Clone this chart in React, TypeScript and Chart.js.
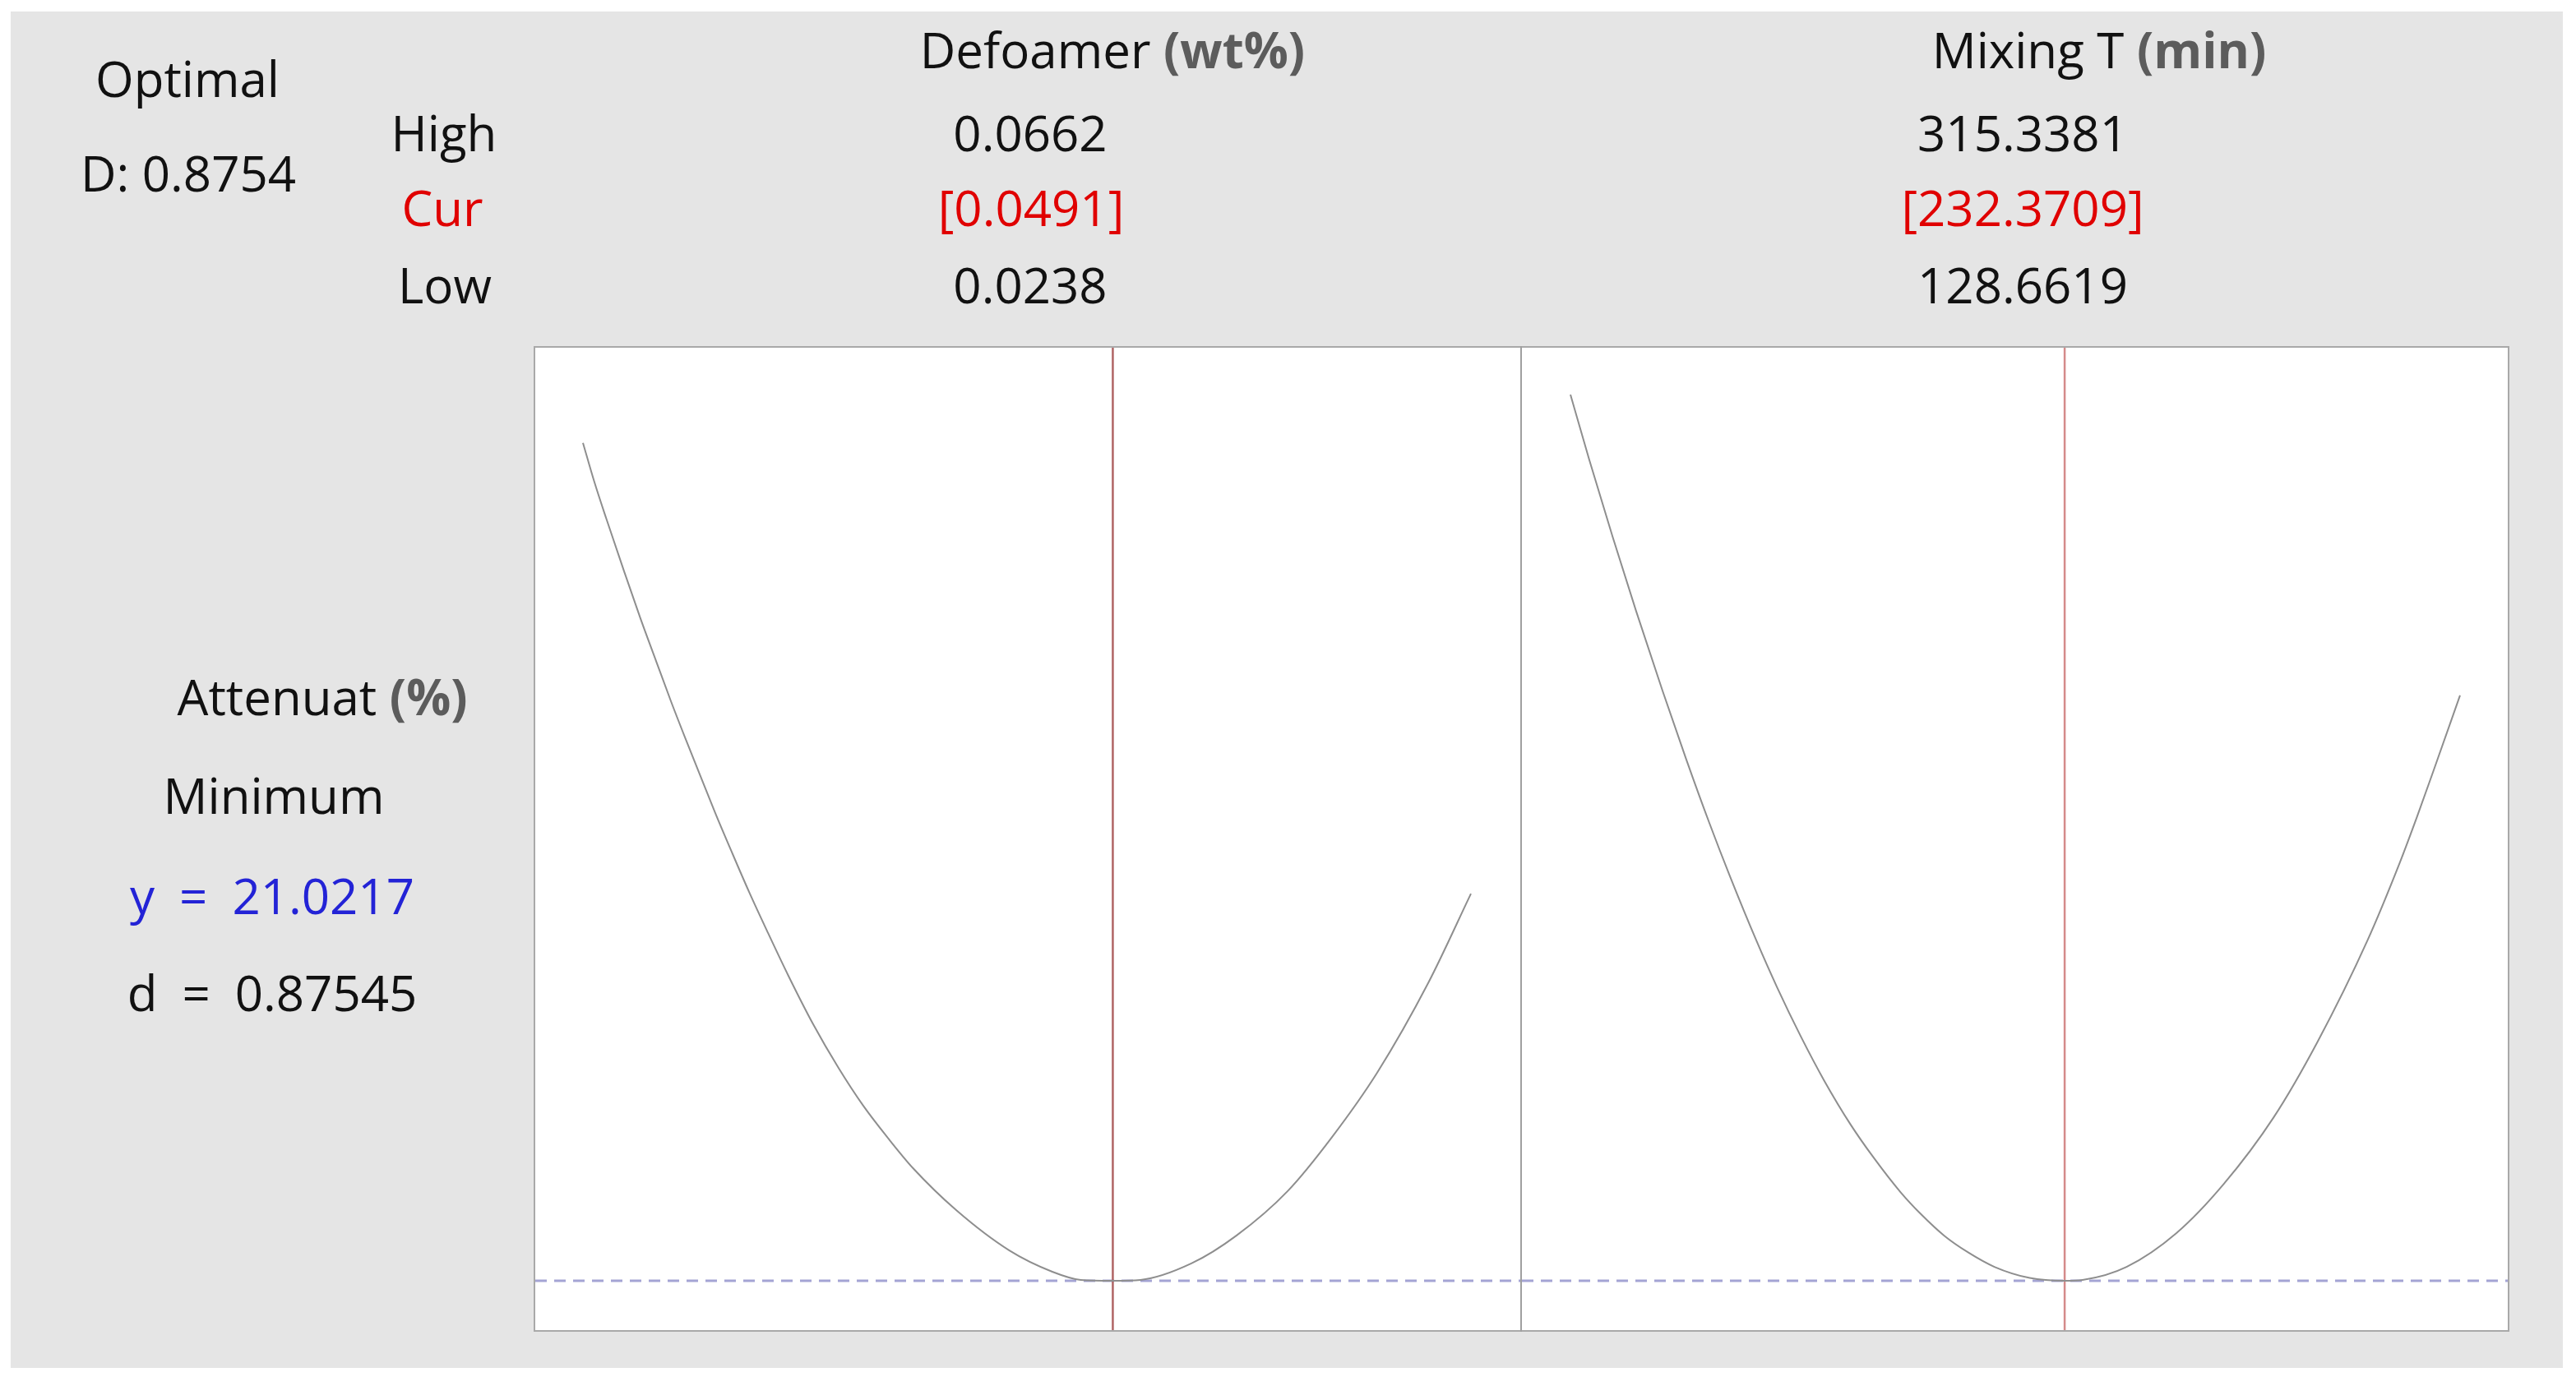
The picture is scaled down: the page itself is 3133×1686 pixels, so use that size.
import React, { useEffect, useRef } from "react";
import { Chart, registerables } from "chart.js";

Chart.register(...registerables);

// ---- data ----
const Y_MIN = 20;
const Y_MAX = 40.35;
const Y_OPT = 21.0217;

const defoamerLow = 0.0238;
const defoamerCur = 0.0491;
const defoamerHigh = 0.0662;
const defoamerAxis = [0.021523, 0.068556];
const defoamerX = [
  0.0238, 0.02433, 0.02493, 0.02578, 0.02654, 0.02731, 0.02799, 0.02867,
  0.02936, 0.03012, 0.03089, 0.03174, 0.03259, 0.03361, 0.0348, 0.03599,
  0.03718, 0.03838, 0.03957, 0.04161, 0.04416, 0.04621, 0.04757, 0.0491,
  0.05042, 0.05285, 0.05501, 0.05745, 0.05957, 0.06172, 0.06416, 0.0662,
];
const defoamerY = [
  38.38, 37.59, 36.79, 35.7, 34.75, 33.84, 33.04, 32.28, 31.53, 30.71, 29.92,
  29.07, 28.27, 27.34, 26.33, 25.44, 24.65, 23.97, 23.35, 22.49, 21.65, 21.21,
  21.04, 21.0217, 21.04, 21.38, 21.96, 22.88, 24.0, 25.33, 27.19, 29.04,
];

const mixingLow = 128.6619;
const mixingCur = 232.3709;
const mixingHigh = 315.3381;
const mixingAxis = [118.48, 325.35];
const mixingX = [
  128.6619, 132.61, 137.53, 142.46, 148.0, 152.94, 157.87, 162.18, 167.72,
  172.03, 176.97, 181.9, 187.44, 192.38, 197.91, 202.23, 207.16, 212.1, 217.63,
  225.04, 232.3709, 236.13, 245.36, 255.83, 265.7, 276.18, 285.42, 295.9,
  302.68, 306.37, 310.06, 315.3381,
];
const mixingY = [
  39.38, 38.03, 36.43, 34.89, 33.24, 31.83, 30.49, 29.39, 28.06, 27.1, 26.09,
  25.17, 24.26, 23.56, 22.86, 22.4, 21.95, 21.61, 21.31, 21.08, 21.0217, 21.04,
  21.31, 22.01, 23.02, 24.4, 25.97, 28.07, 29.68, 30.65, 31.67, 33.15,
];

const FONT = '"Open Sans", "Noto Sans", sans-serif';
const FS = 60;

function Label(props: {
  cx: number;
  baseline: number;
  color?: string;
  children: React.ReactNode;
}) {
  const top = props.baseline - 0.888 * FS;
  return (
    <div
      style={{
        position: "absolute",
        left: props.cx - 500,
        width: 1000,
        top,
        height: FS,
        lineHeight: FS + "px",
        fontSize: FS,
        fontFamily: FONT,
        color: props.color || "#111",
        textAlign: "center",
        whiteSpace: "pre",
      }}
    >
      {props.children}
    </div>
  );
}

const Unit = (p: { children: React.ReactNode }) => (
  <span style={{ fontWeight: 700, color: "#5c5c5c" }}>{p.children}</span>
);

function Panel(props: {
  left: number;
  top: number;
  width: number;
  height: number;
  xs: number[];
  ys: number[];
  cur: number;
  axis: number[];
  red: string;
}) {
  const ref = useRef<HTMLCanvasElement | null>(null);
  useEffect(() => {
    if (!ref.current) return;
    const chart = new Chart(ref.current, {
      type: "line",
      data: {
        datasets: [
          {
            data: props.xs.map((x, i) => ({ x, y: props.ys[i] })),
            borderColor: "#8e8e8e",
            borderWidth: 2,
            pointRadius: 0,
            cubicInterpolationMode: "monotone",
            fill: false,
          },
          {
            data: [
              { x: props.cur, y: Y_MIN },
              { x: props.cur, y: Y_MAX },
            ],
            borderColor: props.red,
            borderWidth: 2.5,
            pointRadius: 0,
            fill: false,
          },
          {
            data: [
              { x: props.axis[0], y: Y_OPT },
              { x: props.axis[1], y: Y_OPT },
            ],
            borderColor: "#a4a4d4",
            borderWidth: 3,
            borderDash: [14, 9],
            pointRadius: 0,
            fill: false,
          },
        ],
      },
      options: {
        animation: false,
        responsive: false,
        maintainAspectRatio: false,
        events: [],
        layout: { padding: 0 },
        plugins: { legend: { display: false }, tooltip: { enabled: false } },
        scales: {
          x: { type: "linear", min: props.axis[0], max: props.axis[1], display: false },
          y: { type: "linear", min: Y_MIN, max: Y_MAX, display: false },
        },
      },
    } as any);
    return () => chart.destroy();
  }, []);
  return (
    <canvas
      ref={ref}
      width={props.width}
      height={props.height}
      style={{
        position: "absolute",
        left: props.left,
        top: props.top,
        width: props.width,
        height: props.height,
      }}
    />
  );
}

export default function App() {
  return (
    <div
      style={{
        position: "absolute",
        left: 0,
        top: 0,
        width: 3133,
        height: 1686,
        background: "#ffffff",
        overflow: "hidden",
      }}
    >
      <div
        style={{
          position: "absolute",
          left: 13,
          top: 14,
          width: 3104,
          height: 1650,
          background: "#e5e5e5",
        }}
      />
      <div
        style={{
          position: "absolute",
          left: 649,
          top: 421,
          width: 2403,
          height: 1199,
          background: "#ffffff",
          border: "2px solid #a9a9a9",
          boxSizing: "border-box",
        }}
      />
      <div
        style={{
          position: "absolute",
          left: 1849,
          top: 421,
          width: 2,
          height: 1199,
          background: "#a0a0a0",
        }}
      />
      <Panel
        left={651}
        top={423}
        width={1198}
        height={1195}
        xs={defoamerX}
        ys={defoamerY}
        cur={defoamerCur}
        axis={defoamerAxis}
        red="#b06464"
      />
      <Panel
        left={1851}
        top={423}
        width={1199}
        height={1195}
        xs={mixingX}
        ys={mixingY}
        cur={mixingCur}
        axis={mixingAxis}
        red="#d48a8a"
      />

      <Label cx={228} baseline={118}>Optimal</Label>
      <Label cx={229} baseline={233}>D: 0.8754</Label>

      <Label cx={540} baseline={184}>High</Label>
      <Label cx={538} baseline={275} color="#e00000">Cur</Label>
      <Label cx={541} baseline={369}>Low</Label>

      <Label cx={1353} baseline={83}>
        Defoamer <Unit>(wt%)</Unit>
      </Label>
      <Label cx={1253} baseline={184}>{defoamerHigh.toFixed(4)}</Label>
      <Label cx={1254} baseline={275} color="#e00000">
        {"[" + defoamerCur.toFixed(4) + "]"}
      </Label>
      <Label cx={1253} baseline={369}>{defoamerLow.toFixed(4)}</Label>

      <Label cx={2553} baseline={83}>
        Mixing T <Unit>(min)</Unit>
      </Label>
      <Label cx={2460} baseline={184}>{mixingHigh.toFixed(4)}</Label>
      <Label cx={2460} baseline={275} color="#e00000">
        {"[" + mixingCur.toFixed(4) + "]"}
      </Label>
      <Label cx={2460} baseline={369}>{mixingLow.toFixed(4)}</Label>

      <Label cx={392} baseline={870}>
        Attenuat <Unit>(%)</Unit>
      </Label>
      <Label cx={333} baseline={990}>Minimum</Label>
      <Label cx={331} baseline={1112} color="#2323d6">
        {"y\u2002=\u2002" + Y_OPT.toFixed(4)}
      </Label>
      <Label cx={331} baseline={1230}>{"d\u2002=\u20020.87545"}</Label>
    </div>
  );
}
